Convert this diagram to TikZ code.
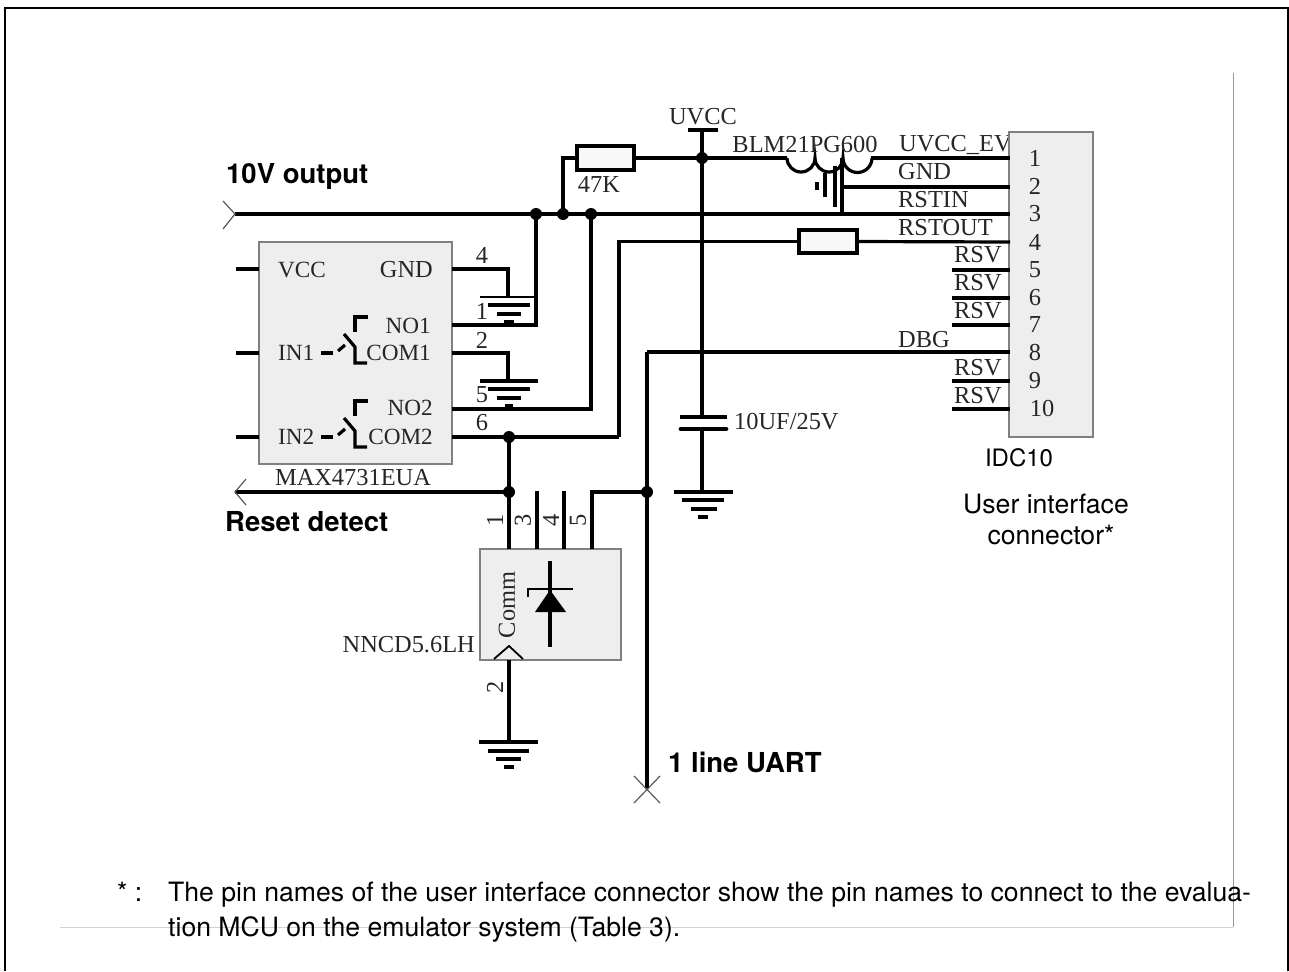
\documentclass[tikz,border=0pt]{standalone}
\usepackage{fontspec}
\setmainfont{Liberation Serif}
\setsansfont{TeX Gyre Heros}
\definecolor{chipfill}{HTML}{EEEEEE}
\tikzset{
  wire/.style={line width=3.2pt},
  fatwire/.style={line width=4.2pt},
  thinwire/.style={line width=1.2pt},
  chip/.style={draw=gray,fill=chipfill,line width=1.6pt,inner sep=0pt},
  res/.style={draw,fill=chipfill!40,line width=3.2pt,inner sep=0pt},
  junc/.style={circle,fill=black,inner sep=0pt,minimum size=12pt},
  lbl/.style={inner sep=0pt,text=black!85,font=\fontsize{24.4}{26}\selectfont},
  pinlbl/.style={inner sep=0pt,text=black!85,font=\fontsize{23.2}{25}\selectfont},
  sans/.style={inner sep=0pt,font=\sffamily\fontsize{26.6}{28}\selectfont},
  bold/.style={inner sep=0pt,font=\sffamily\bfseries\fontsize{27.5}{29}\selectfont}
}
\begin{document}
\begin{tikzpicture}[x=1pt,y=-1pt]
  \useasboundingbox (0,0) rectangle (1289,971);
  \draw[line width=2.4pt] (5,971) -- (5,8) -- (1288,8) -- (1288,971);
  \draw[gray!35,line width=0.9pt] (1233,927) -- (60,927);
  \draw[gray!80,line width=0.9pt] (1233,73) -- (1233,927);

  % parts
  \node[lbl,anchor=west] (tEV) at (899,145) {UVCC\_EV};
  \node[chip,minimum width=193pt,minimum height=222pt] (U1) at (355.5,353) {};
  \node[chip,minimum width=141pt,minimum height=111pt] (U2) at (550.5,604.5) {};
  \node[chip,minimum width=84pt,minimum height=305pt] (P1) at (1051,284.5) {};
  \node[res,minimum width=57pt,minimum height=24pt] (R1) at (605.5,158) {};
  \node[res,minimum width=58pt,minimum height=23pt] (R2) at (828,241.5) {};

  % junctions and free ends
  \node[junc] (J1) at (536,214) {};
  \node[junc] (J2) at (563,214) {};
  \node[junc] (J3) at (591,214) {};
  \node[junc] (J4) at (702,158) {};
  \node[junc] (J5) at (509,437) {};
  \node[junc] (J6) at (509,492) {};
  \node[junc] (J7) at (647,492) {};
  \coordinate (In) at (235,214);
  \coordinate (Out) at (235,492);
  \coordinate (Uart) at (647,789);
  \coordinate (Bar) at (702,130);
  \coordinate (P1a) at (1010,158);
  \coordinate (P1b) at (1010,187);
  \coordinate (P1c) at (1010,214);
  \coordinate (P1d) at (1010,242);
  \coordinate (P1h) at (1010,352);
  \coordinate (L1) at (787,158);
  \coordinate (L2) at (871,158);
  \coordinate (L3) at (842,158);
  \coordinate (L4) at (842,187);
  \coordinate (G1) at (508,297);
  \coordinate (G2) at (508,381);
  \coordinate (G3) at (702,492);
  \coordinate (G4) at (509,742);
  \coordinate (C1) at (702,417);
  \coordinate (C2) at (702,429);

  % top rail
  \draw[wire] (In) -- (P1c);
  \draw[wire] (J2.center) |- (R1.west);
  \draw[fatwire] (R1.east) -- (L1);
  \draw[fatwire] (L2) -- (P1a);
  \draw[wire] (L1) arc (180:360:14pt) arc (180:360:14pt) arc (180:360:14.5pt);
  \draw[wire] (L3) -- (J3.center -| L3) (L4) -- (P1b);
  \draw[wire] (835,166) -- ++(0,41);
  \draw[wire] (825,173) -- ++(0,24);
  \draw[wire] (817,182) -- ++(0,8);

  % UVCC and the capacitor
  \draw[wire] (688,130) -- (718,130);
  \draw[wire] (Bar) -- (C1);
  \draw[wire] (C2) -- (G3);
  \draw[wire] (680,417) -- (727,417);
  \draw[line width=4.8pt,line cap=round] (681,429) -- (726,429);
  \draw[wire] (G3) ++(-28,0) -- ++(59,0);
  \draw[wire] (G3) ++(-20,8) -- ++(42,0);
  \draw[line width=4pt] (G3) ++(-11,17) -- ++(26,0);
  \draw[wire] (G3) ++(-4,25) -- ++(10,0);

  % lines on the connector
  \draw[wire] (619,437) |- (R2.west);
  \draw[wire] (R2.east) -- (P1d);
  \draw[wire] (Uart |- P1h) -- (P1h);
  \draw[wire] (Uart |- P1h) -- (Uart);
  \draw[wire] (952,270) -- (1010,270);
  \draw[wire] (952,298) -- (1010,298);
  \draw[wire] (952,325) -- (1010,325);
  \draw[wire] (952,381) -- (1010,381);
  \draw[wire] (952,409) -- (1010,409);

  % first chip
  \draw[wire] (236,269) -- (259,269);
  \draw[wire] (236,353) -- (259,353);
  \draw[wire] (236,437) -- (259,437);
  \draw[wire] (452,269) -| (G1);
  \draw[wire] (452,353) -| (G2);
  \draw[wire] (452,325) -| (J1.center);
  \draw[wire] (452,409) -| (J3.center);
  \draw[wire] (452,437) -- (619,437);
  \draw[line width=2.6pt] (480,297) -- (536,297);
  \draw[wire] (488,305) -- (530,305);
  \draw[wire] (497,314) -- (521,314);
  \draw[wire] (504,322) -- (514,322);
  \draw[line width=4pt] (480,381) -- (538,381);
  \draw[wire] (488,389) -- (530,389);
  \draw[wire] (497,398) -- (521,398);
  \draw[wire] (505,406) -- (513,406);
  \draw[wire] (321,353) -- (333,353);
  \draw[wire] (338,351) -- (345,345);
  \draw[wire] (344,334) -- (355,347) -- (355,363) -- (367,363);
  \draw[wire] (355,332) -- (355,317) -- (368,317);
  \draw[wire] (321,437) -- (333,437);
  \draw[wire] (338,435) -- (345,429);
  \draw[wire] (344,418) -- (355,431) -- (355,447) -- (367,447);
  \draw[wire] (355,416) -- (355,401) -- (368,401);

  % second chip
  \draw[wire] (J5.center) -- (509,549);
  \draw[wire] (Out) -- (J6.center);
  \draw[wire] (537,491) -- (537,549);
  \draw[wire] (564,491) -- (564,549);
  \draw[wire] (592,549) |- (J7.center);
  \draw[wire] (509,660) -- (G4);
  \draw[wire] (G4) ++(-30,0) -- ++(59,0);
  \draw[wire] (G4) ++(-21,9) -- ++(41,0);
  \draw[line width=4pt] (G4) ++(-13,17) -- ++(25,0);
  \draw[wire] (G4) ++(-5,25) -- ++(10,0);
  \draw[wire] (550,561) -- (550,647);
  \draw[line width=2.6pt] (528,597) -- (528,589) -- (573,589);
  \fill (550,590) -- (566,612) -- (535,612) -- cycle;
  \draw[line width=1.8pt] (494,659) -- (509,646) -- (523,659);

  % open ends
  \draw[thinwire,gray!70!black] (223,201) -- (In) -- (223,229);
  \draw[thinwire,gray!70!black] (246,479) -- (Out) -- (246,505);
  \draw[thinwire,gray!70!black] (634,776) -- (660,803) (660,776) -- (634,803);

  % labels
  \node[lbl] (tU) at (703,117) {UVCC};
  \node[lbl] (tL) at (805,145) {BLM21PG600};
  \node[lbl,anchor=west] (tG) at (898,172) {GND};
  \node[lbl,anchor=west] (tI) at (898,200) {RSTIN};
  \node[lbl,anchor=west] (tO) at (898,228) {RSTOUT};
  \node[lbl,anchor=west] (tD) at (898,340) {DBG};
  \node[lbl,anchor=west] (tS5) at (954,255) {RSV};
  \node[lbl,anchor=west] (tS6) at (954,283) {RSV};
  \node[lbl,anchor=west] (tS7) at (954,311) {RSV};
  \node[lbl,anchor=west] (tS9) at (954,368) {RSV};
  \node[lbl,anchor=west] (tS10) at (954,396) {RSV};
  \node[lbl] (n1) at (1035,158) {1};
  \node[lbl] (n2) at (1035,186) {2};
  \node[lbl] (n3) at (1035,214) {3};
  \node[lbl] (n4) at (1035,242) {4};
  \node[lbl] (n5) at (1035,270) {5};
  \node[lbl] (n6) at (1035,298) {6};
  \node[lbl] (n7) at (1035,325) {7};
  \node[lbl] (n8) at (1035,353) {8};
  \node[lbl] (n9) at (1035,381) {9};
  \node[lbl] (n10) at (1042,409) {10};
  \node[lbl] (tK) at (599,184) {47K};
  \node[lbl,anchor=west] (tC) at (734,422) {10UF/25V};
  \node[pinlbl,anchor=west] (tVCC) at (278,270) {VCC};
  \node[lbl,anchor=east] (tGND) at (433,270) {GND};
  \node[pinlbl,anchor=east] (tNO1) at (431,326) {NO1};
  \node[pinlbl,anchor=east] (tCOM1) at (431,353) {COM1};
  \node[pinlbl,anchor=east] (tNO2) at (433,408) {NO2};
  \node[pinlbl,anchor=east] (tCOM2) at (433,437) {COM2};
  \node[pinlbl,anchor=west] (tIN1) at (278,353) {IN1};
  \node[pinlbl,anchor=west] (tIN2) at (278,437) {IN2};
  \node[lbl] (a4) at (482,255) {4};
  \node[lbl] (a1) at (482,311) {1};
  \node[lbl] (a2) at (482,340) {2};
  \node[lbl] (a5) at (482,395) {5};
  \node[lbl] (a6) at (482,423) {6};
  \node[lbl] (tMAX) at (353,478) {MAX4731EUA};
  \node[lbl,anchor=east] (tNN) at (475,645) {NNCD5.6LH};
  \node[lbl,rotate=90] (tComm) at (507,605) {Comm};
  \node[lbl,rotate=90] (b1) at (495,520) {1};
  \node[lbl,rotate=90] (b3) at (523,520) {3};
  \node[lbl,rotate=90] (b4) at (551,520) {4};
  \node[lbl,rotate=90] (b5) at (578,520) {5};
  \node[lbl,rotate=90] (b2) at (495,687) {2};
  \node[bold,anchor=base west] (t10V) at (226,183) {10V output};
  \node[bold,anchor=base west] (tRst) at (225,531) {Reset detect};
  \node[bold,anchor=base west] (tUart) at (668,772) {1 line UART};
  \node[sans,font=\sffamily\fontsize{24}{26}\selectfont] (tIDC) at (1019,458) {IDC10};
  \node[sans] (tUI) at (1046,504) {User interface};
  \node[sans] (tCn) at (1051,535) {connector*};
  \node[sans,anchor=base west] (tStar) at (117,901) {* :};
  \node[sans,anchor=base west] (tF1) at (168,901) {The pin names of the user interface connector show the pin names to connect to the evalua-};
  \node[sans,anchor=base west] (tF2) at (168,936) {tion MCU on the emulator system (Table 3).};
\end{tikzpicture}
\end{document}
